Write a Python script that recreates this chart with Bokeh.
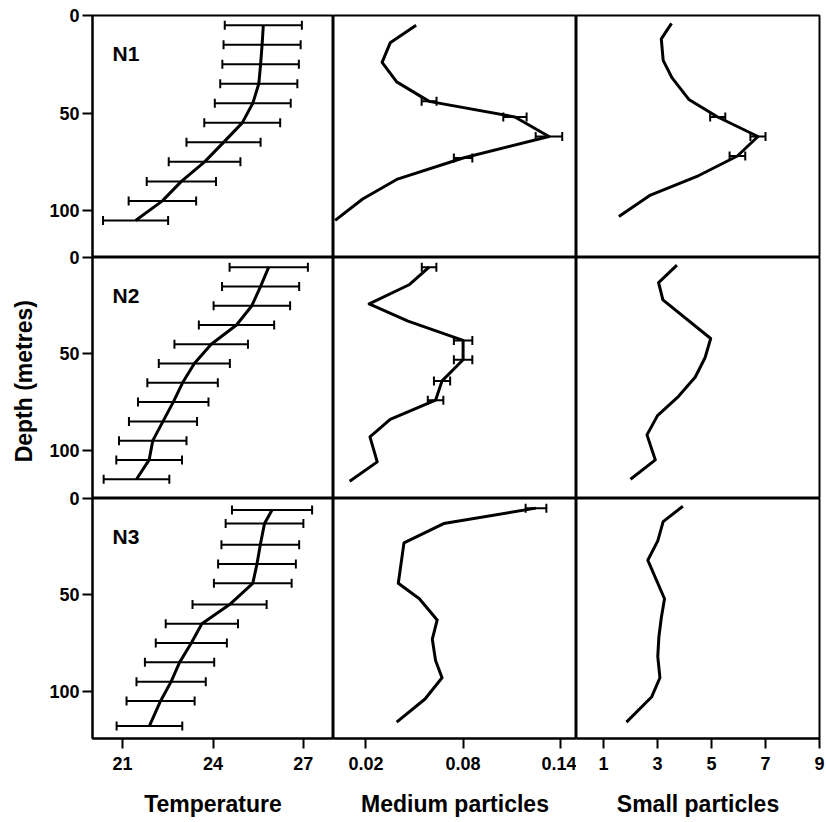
from bokeh.plotting import figure
from bokeh.layouts import row, column
from bokeh.models import Range1d, FixedTicker, Whisker, TeeHead, ColumnDataSource, Label
from bokeh.embed import file_html
from bokeh.resources import INLINE

# ---------------- data ----------------
stations = ["N1", "N2", "N3"]
x_labels = ["Temperature", "Medium particles", "Small particles"]
temp_ticks = [21, 24, 27]
medium_ticks = [0.02, 0.08, 0.14]
small_ticks = [1, 3, 5, 7, 9]
depth_ticks = [0, 50, 100]

# Temperature
n1_temp_depth = [5, 15, 25, 35, 45, 55, 65, 75, 85, 95, 105]
n1_temp = [25.67, 25.63, 25.58, 25.52, 25.32, 24.97, 24.35, 23.72, 22.95, 22.32, 21.43]
n1_temp_err = [1.28, 1.28, 1.27, 1.28, 1.26, 1.26, 1.23, 1.19, 1.15, 1.12, 1.08]

n2_temp_depth = [5, 15, 25, 35, 45, 55, 65, 75, 85, 95, 105, 115]
n2_temp = [25.85, 25.58, 25.29, 24.78, 23.94, 23.38, 22.99, 22.68, 22.34, 22.0, 21.88, 21.46]
n2_temp_err = [1.30, 1.28, 1.27, 1.25, 1.22, 1.18, 1.17, 1.17, 1.13, 1.12, 1.09, 1.09]

n3_temp_depth = [6, 13, 24, 34, 44, 55, 65, 75, 85, 95, 105, 118]
n3_temp = [25.96, 25.71, 25.57, 25.46, 25.32, 24.55, 23.63, 23.28, 22.89, 22.61, 22.26, 21.89]
n3_temp_err = [1.33, 1.29, 1.29, 1.29, 1.29, 1.23, 1.20, 1.18, 1.15, 1.15, 1.13, 1.09]

# Medium particles
n1_med_depth = [5, 14, 24, 34, 44, 52, 62, 73, 84, 94, 105]
n1_med = [0.051, 0.035, 0.030, 0.039, 0.059, 0.112, 0.133, 0.080, 0.039, 0.018, 0.001]
n1_med_err = [0, 0, 0, 0, 0.0046, 0.0072, 0.0082, 0.0057, 0, 0, 0]

n2_med_depth = [5, 14, 24, 33, 43, 53, 64, 74, 84, 93, 106, 116]
n2_med = [0.059, 0.047, 0.022, 0.046, 0.080, 0.080, 0.067, 0.063, 0.035, 0.0225, 0.027, 0.010]
n2_med_err = [0.0045, 0, 0, 0, 0.0057, 0.0057, 0.005, 0.0048, 0, 0, 0, 0]

n3_med_depth = [5, 13, 23, 44, 52, 63, 73, 84, 93, 104, 116]
n3_med = [0.125, 0.068, 0.0435, 0.040, 0.053, 0.064, 0.061, 0.063, 0.067, 0.0565, 0.039]
n3_med_err = [0.0064, 0, 0, 0, 0, 0, 0, 0, 0, 0, 0]

# Small particles
n1_small_depth = [4, 12, 23, 32, 43, 52, 62, 72, 82, 92, 103]
n1_small = [3.52, 3.14, 3.21, 3.54, 4.16, 5.23, 6.72, 5.96, 4.53, 2.74, 1.57]
n1_small_err = [0, 0, 0, 0, 0, 0.28, 0.28, 0.29, 0, 0, 0]

n2_small_depth = [4, 13, 22, 42, 52, 62, 72, 82, 92, 105, 115]
n2_small = [3.72, 3.04, 3.20, 4.97, 4.76, 4.40, 3.78, 3.00, 2.61, 2.92, 2.00]
n2_small_err = [0] * 11

n3_small_depth = [4, 12, 22, 32, 52, 62, 72, 82, 93, 103, 116]
n3_small = [3.94, 3.21, 3.01, 2.64, 3.26, 3.14, 3.05, 3.01, 3.09, 2.78, 1.85]
n3_small_err = [0] * 11

# ---------------- layout / style ----------------
FONT = "Liberation Sans"
X_LIMITS = [(20, 28), (0, 0.15), (0, 9)]
X_TICKS = [temp_ticks, medium_ticks, small_ticks]
DEPTH_MAX = [124, 125, 124.5]
FRAME_W = [241, 243, 243]
FRAME_H = [242, 241, 240]
OV = 12

series = [
    [(n1_temp_depth, n1_temp, n1_temp_err), (n1_med_depth, n1_med, n1_med_err), (n1_small_depth, n1_small, n1_small_err)],
    [(n2_temp_depth, n2_temp, n2_temp_err), (n2_med_depth, n2_med, n2_med_err), (n2_small_depth, n2_small, n2_small_err)],
    [(n3_temp_depth, n3_temp, n3_temp_err), (n3_med_depth, n3_med, n3_med_err), (n3_small_depth, n3_small, n3_small_err)],
]


def style_axis(ax):
    ax.axis_line_width = 2
    ax.axis_line_color = "black"
    ax.major_tick_out = 10
    ax.major_tick_in = 0
    ax.major_tick_line_width = 2
    ax.minor_tick_out = 0
    ax.minor_tick_in = 0
    ax.major_label_text_font = FONT
    ax.major_label_text_font_style = "bold"
    ax.major_label_text_font_size = "18px"
    ax.major_label_text_color = "black"
    ax.axis_label_text_font = FONT
    ax.axis_label_text_font_style = "bold"
    ax.axis_label_text_font_size = "23px"
    ax.axis_label_text_color = "black"


def panel(ri, ci):
    depth, vals, errs = series[ri][ci]
    left = ci == 0
    bottom = ri == 2
    fig = figure(
        frame_width=FRAME_W[ci], frame_height=FRAME_H[ri],
        x_range=Range1d(*X_LIMITS[ci]), y_range=Range1d(DEPTH_MAX[ri], 0),
        output_backend="svg", toolbar_location=None,
        x_axis_location="below" if bottom else None,
        y_axis_location="left" if left else None,
        min_border_left=92 if left else 0,
        min_border_right=7 if ci == 2 else 0,
        min_border_top=15 if ri == 0 else OV,
        min_border_bottom=84 if bottom else 0,
    )
    fig.xgrid.visible = False
    fig.ygrid.visible = False
    fig.outline_line_color = "black"
    fig.outline_line_width = 2
    fig.outline_line_alpha = 1
    fig.border_fill_alpha = 0
    fig.background_fill_color = "white"

    if left:
        ax = fig.yaxis[0]
        style_axis(ax)
        ax.ticker = FixedTicker(ticks=depth_ticks)
        ax.major_label_standoff = 3
        if ri == 1:
            ax.axis_label = "Depth  (metres)"
            ax.axis_label_standoff = 9
    if bottom:
        ax = fig.xaxis[0]
        style_axis(ax)
        ax.ticker = FixedTicker(ticks=X_TICKS[ci])
        ax.major_label_standoff = 8
        ax.axis_label = x_labels[ci]
        ax.axis_label_standoff = 18

    src = ColumnDataSource(dict(depth=depth, val=vals))
    fig.line("val", "depth", source=src, line_width=3, line_color="black", line_join="round")

    ed = [d for d, e in zip(depth, errs) if e > 0]
    ev = [v for v, e in zip(vals, errs) if e > 0]
    ee = [e for e in errs if e > 0]
    if ed:
        wsrc = ColumnDataSource(dict(
            depth=ed,
            lower=[v - e for v, e in zip(ev, ee)],
            upper=[v + e for v, e in zip(ev, ee)],
        ))
        cap = dict(size=9, line_width=2, line_color="black")
        fig.add_layout(Whisker(source=wsrc, base="depth", lower="lower", upper="upper",
                               dimension="width", line_width=2, line_color="black",
                               lower_head=TeeHead(**cap), upper_head=TeeHead(**cap)))

    if left:
        x0, x1 = X_LIMITS[ci]
        fig.add_layout(Label(x=x0 + 0.083 * (x1 - x0), y=19.5, text=stations[ri],
                             text_baseline="middle", text_align="left",
                             text_font=FONT, text_font_style="bold",
                             text_font_size="21px", text_color="black"))
    return fig


rows = []
for ri in range(3):
    figs = [panel(ri, ci) for ci in range(3)]
    if ri == 0:
        rows.append(row(*figs))
    else:
        rows.append(row(*figs, margin=(-OV, 0, 0, 0)))

layout = column(*rows)

open("out.html", "w").write(file_html(layout, INLINE))
